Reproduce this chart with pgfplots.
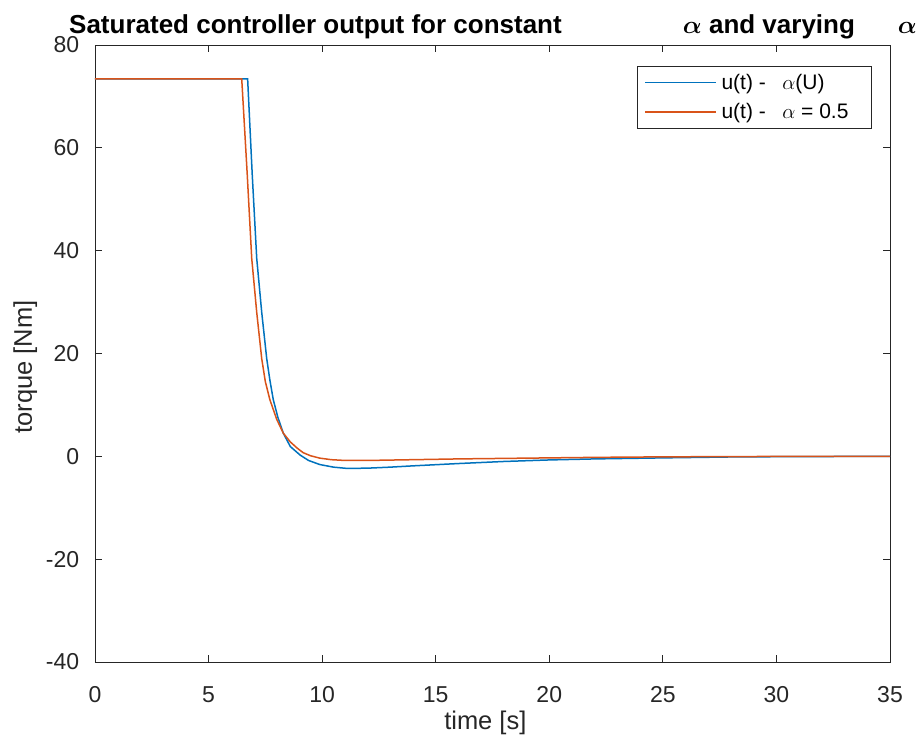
\documentclass[border=0pt]{standalone}
\usepackage{pgfplots}
\pgfplotsset{compat=1.18}
\usepackage{amsmath}
\usepackage{fontspec}
\setmainfont{Liberation Sans}
\definecolor{mblue}{rgb}{0,0.447,0.741}
\definecolor{morange}{rgb}{0.85,0.325,0.098}
\definecolor{axgray}{rgb}{0.15,0.15,0.15}
\begin{document}
\begin{tikzpicture}
\begin{axis}[
  scale only axis,
  width=795pt, height=617pt,
  xmin=0, xmax=35, ymin=-40, ymax=80,
  xtick={0,5,...,35}, ytick={-40,-20,...,80},
  tick align=inside,
  major tick length=7pt,
  axis line style={draw=axgray, line width=0.9pt},
  tick style={draw=axgray, line width=0.9pt},
  /pgf/number format/assume math mode=true,
  tick label style={font=\fontsize{23}{27}\selectfont, text=axgray},
  xticklabel style={anchor=north, inner sep=0pt, yshift=-24pt},
  yticklabel style={anchor=east, inner sep=0pt, xshift=-15.7pt},
  xlabel={time [s]},
  ylabel={torque [Nm]},
  label style={font=\fontsize{25.5}{30}\selectfont, text=axgray},
  xlabel style={at={(axis description cs:0.491,0)}, anchor=north, inner sep=0pt, yshift=-49pt},
  ylabel style={at={(axis description cs:-0.0726,0.478)}, anchor=south, inner sep=0pt},
  legend style={at={(axis description cs:0.977,0.966)}, anchor=north east,
    draw=axgray, font=\fontsize{21}{25}\selectfont,
    inner xsep=7pt, inner ysep=6pt, row sep=8.5pt, column sep=2.7pt,
    nodes={inner sep=2pt}, cells={anchor=west}},
  legend image code/.code={\draw[mark repeat=2,mark phase=2,#1,line width=1.6pt] plot coordinates {(0pt,0pt) (35.5pt,0pt) (71pt,0pt)};},
]
\addplot[color=mblue, line width=1.5pt] coordinates {
(0,73.4) (6.72,73.4) (6.92,55) (7.12,38.5) (7.34,28.0) (7.56,19.0) (7.7,14.8) (7.85,11)
(8.05,7.6) (8.29,4.5) (8.6,1.9) (9.03,0.25) (9.4,-0.8) (9.9,-1.6) (10.5,-2.1)
(11.1,-2.35) (12,-2.3) (13,-2.1) (14,-1.85) (16,-1.4) (18,-1.0) (20,-0.7)
(22,-0.5) (25,-0.3) (28,-0.12) (31,-0.05) (35,0)
};
\addlegendentry{u(t) -\hspace{16.5pt}$\alpha$(U)}
\addplot[color=morange, line width=1.5pt] coordinates {
(0,73.4) (6.46,73.4) (6.7,55) (6.9,38.5) (7.12,28.0) (7.34,19.0) (7.5,14.5)
(7.7,11) (8.0,7.2) (8.29,4.5) (8.6,2.8) (8.9,1.6) (9.17,0.7) (9.5,0.1)
(9.9,-0.35) (10.4,-0.65) (11.0,-0.8) (12,-0.8) (14,-0.65) (16,-0.5) (18,-0.4)
(20,-0.3) (22,-0.2) (25,-0.1) (28,-0.05) (31,0) (35,0)
};
\addlegendentry{u(t) -\hspace{16.5pt}$\alpha$ = 0.5\kern14pt\relax}
\end{axis}
\node[anchor=base west, inner sep=0pt, font=\fontsize{26}{30}\selectfont\bfseries] at (-26pt,628.7pt) {Saturated controller output for constant};
\node[anchor=base west, inner sep=0pt, font=\fontsize{26}{30}\selectfont\bfseries] at (587.7pt,628.7pt) {$\boldsymbol{\alpha}$ and varying};
\node[anchor=base west, inner sep=0pt, font=\fontsize{26}{30}\selectfont\bfseries] at (802.7pt,628.7pt) {$\boldsymbol{\alpha}$};
\path[use as bounding box] (-95pt,-78pt) rectangle (825pt,662pt);
\end{tikzpicture}
\end{document}
